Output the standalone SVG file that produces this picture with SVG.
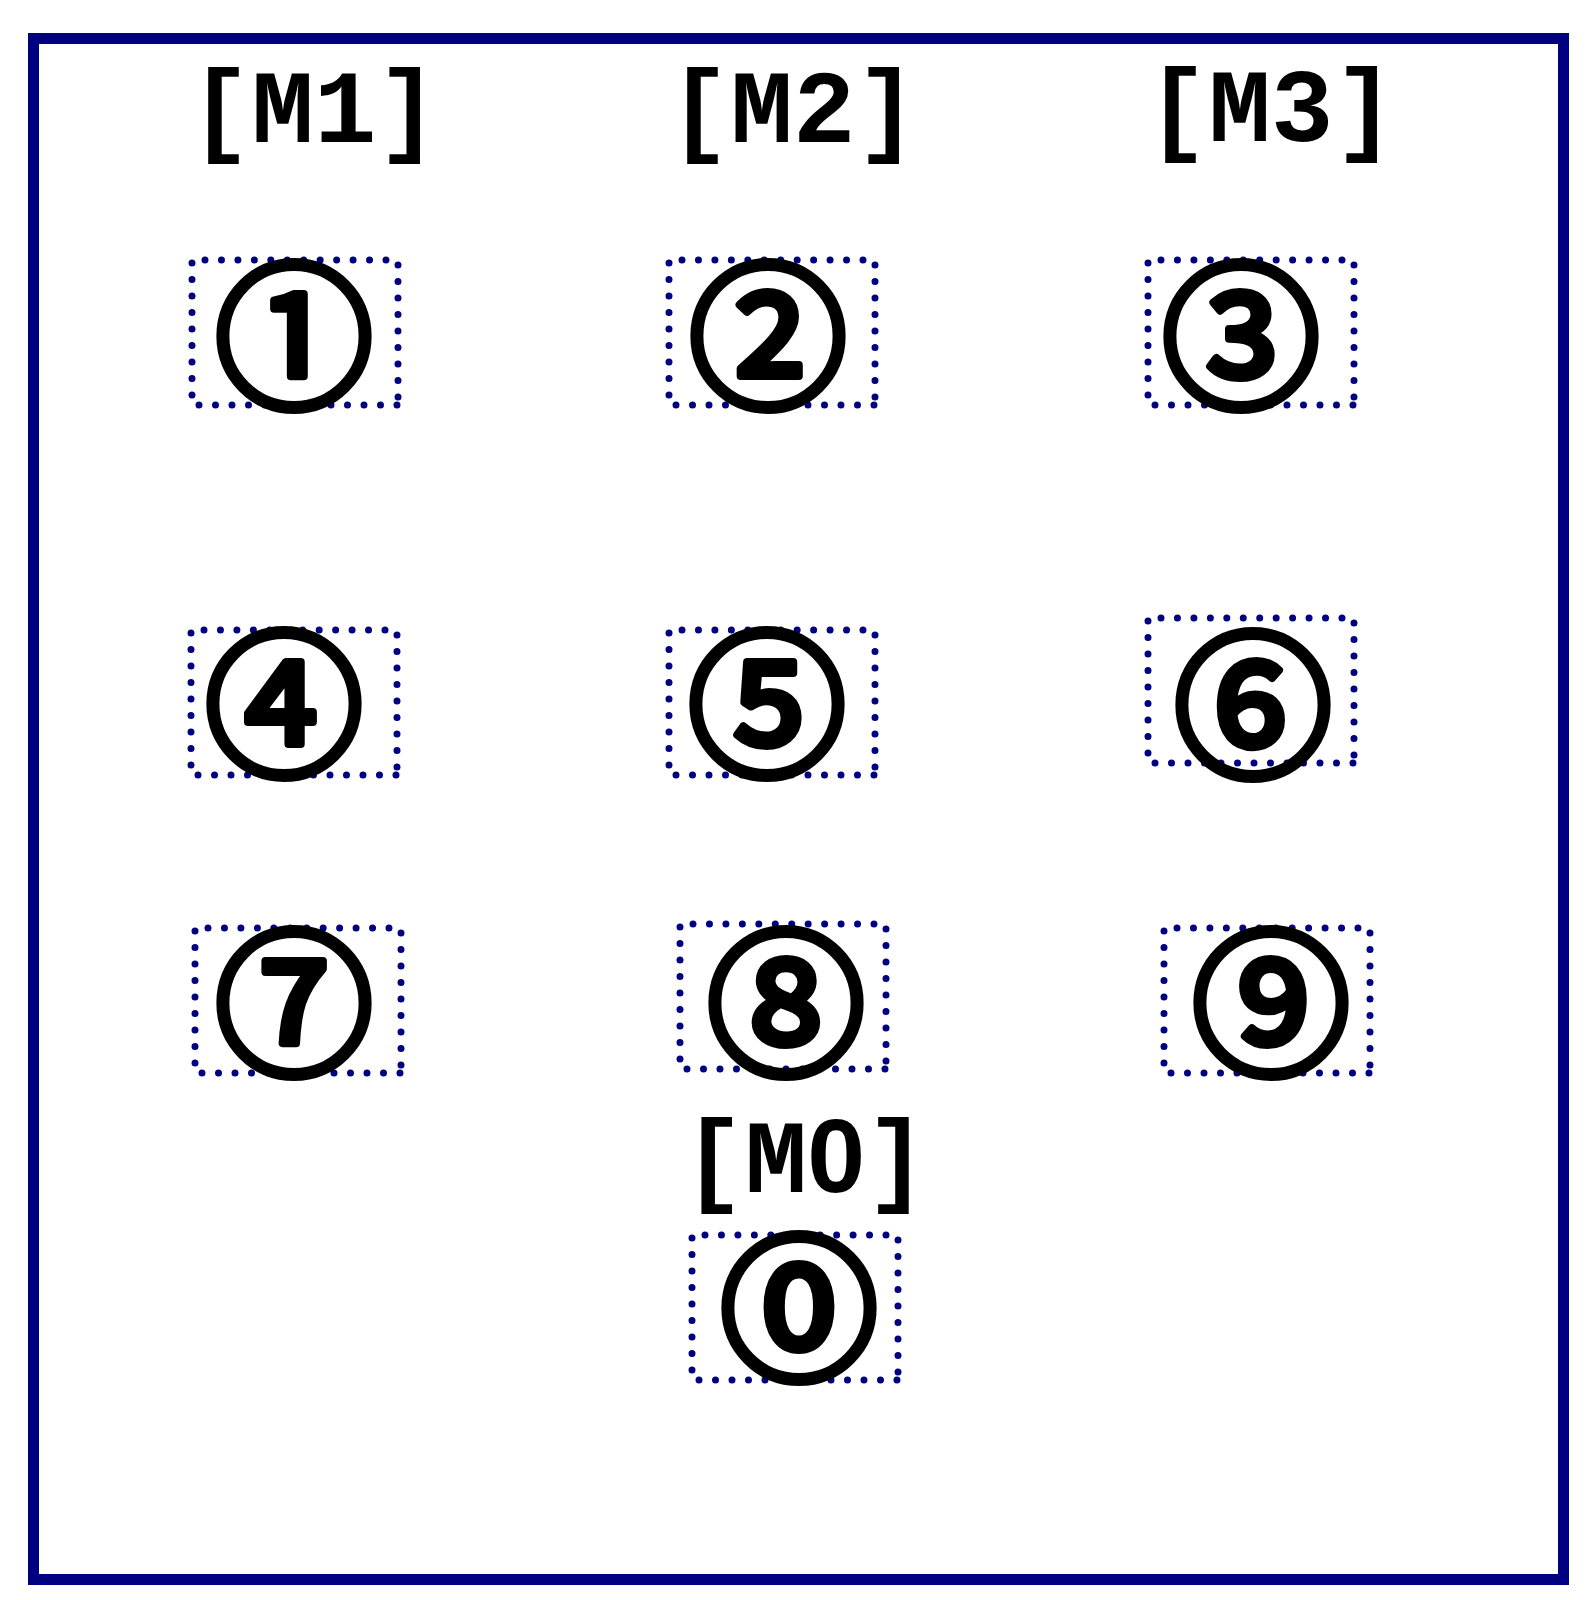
<svg xmlns="http://www.w3.org/2000/svg" xmlns:xlink="http://www.w3.org/1999/xlink" width="1591" height="1600" viewBox="0 0 1591 1600">
<style>
.lbl{font-family:"Liberation Mono","DejaVu Sans Mono",monospace;font-weight:bold;font-size:104px;fill:#000;text-anchor:middle}
.z{font-family:"Liberation Sans",sans-serif}
.num{font-family:"Noto Sans CJK JP","DejaVu Sans",sans-serif;font-weight:normal;font-size:158px;fill:#000;stroke:#000;stroke-width:8;stroke-linejoin:round;text-anchor:middle}
.box line{fill:none;stroke:#000080;stroke-width:7;stroke-linecap:round;stroke-dasharray:0 0.9999}
</style>
<defs>
<g id="bx" class="box">
<line x1="0" y1="3" x2="0" y2="135" pathLength="8"/>
<line x1="13" y1="0" x2="194" y2="0" pathLength="11"/>
<line x1="206" y1="5" x2="206" y2="137" pathLength="8"/>
<line x1="7" y1="145" x2="205" y2="145" pathLength="12"/>
</g>
</defs>
<rect x="0" y="0" width="1591" height="1600" fill="#fff"/>
<rect x="33.5" y="38.5" width="1530" height="1541" fill="none" stroke="#000080" stroke-width="11"/>
<g id="labels">
<text class="lbl" x="314" y="142">[M1]</text>
<text class="lbl" x="793" y="142">[M2]</text>
<text class="lbl" x="1271" y="141">[M3]</text>
<text class="lbl" x="805" y="1192">[M<tspan class="z">0</tspan>]</text>
</g>
<g id="n1"><use xlink:href="#bx" href="#bx" x="192" y="260"/><text class="num" x="294" y="396">①</text></g>
<g id="n2"><use xlink:href="#bx" href="#bx" x="669" y="260"/><text class="num" x="768" y="396">②</text></g>
<g id="n3"><use xlink:href="#bx" href="#bx" x="1148" y="260"/><text class="num" x="1241" y="396">③</text></g>
<g id="n4"><use xlink:href="#bx" href="#bx" x="191" y="630"/><text class="num" x="284" y="764">④</text></g>
<g id="n5"><use xlink:href="#bx" href="#bx" x="669" y="630"/><text class="num" x="767" y="764">⑤</text></g>
<g id="n6"><use xlink:href="#bx" href="#bx" x="1148" y="618"/><text class="num" x="1253" y="765">⑥</text></g>
<g id="n7"><use xlink:href="#bx" href="#bx" x="195" y="928"/><text class="num" x="294" y="1063">⑦</text></g>
<g id="n8"><use xlink:href="#bx" href="#bx" x="680" y="924"/><text class="num" x="786" y="1063">⑧</text></g>
<g id="n9"><use xlink:href="#bx" href="#bx" x="1164" y="928"/><text class="num" x="1271" y="1063">⑨</text></g>
<g id="n0"><use xlink:href="#bx" href="#bx" x="692" y="1235"/><text class="num" x="799" y="1368">⓪</text></g>
<g id="connectors"/>
</svg>
